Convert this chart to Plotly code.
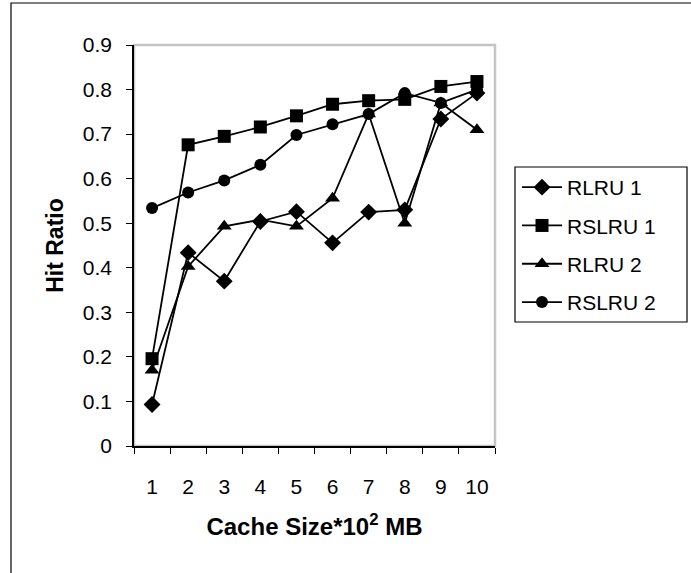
import plotly.graph_objects as go

# Cache sizes (x 10^2 MB) and hit ratios per replacement policy
cache_sizes = ["1", "2", "3", "4", "5", "6", "7", "8", "9", "10"]
rlru1 = [0.093, 0.434, 0.370, 0.504, 0.526, 0.456, 0.525, 0.530, 0.734, 0.792]
rslru1 = [0.196, 0.676, 0.695, 0.716, 0.741, 0.767, 0.775, 0.778, 0.807, 0.818]
rlru2 = [0.170, 0.403, 0.493, 0.508, 0.493, 0.556, 0.745, 0.500, 0.770, 0.710]
rslru2 = [0.534, 0.569, 0.596, 0.631, 0.698, 0.722, 0.745, 0.792, 0.770, 0.800]

y_ticks = [0, 0.1, 0.2, 0.3, 0.4, 0.5, 0.6, 0.7, 0.8, 0.9]
y_tick_text = ["0", "0.1", "0.2", "0.3", "0.4", "0.5", "0.6", "0.7", "0.8", "0.9"]

series = [
    ("RLRU 1", rlru1, "diamond", 13),
    ("RSLRU 1", rslru1, "square", 13),
    ("RLRU 2", rlru2, "triangle-up", 13),
    ("RSLRU 2", rslru2, "circle", 12),
]

FONT = "Liberation Sans, Arial, sans-serif"
W, H = 691, 573
L, R, T, B = 134, 196, 45, 127
pw, ph = W - L - R, H - T - B

def px_x(x):
    return (x - L) / pw

def px_y(y):
    return (H - B - y) / ph

fig = go.Figure()
for i, (name, vals, sym, size) in enumerate(series):
    fig.add_trace(go.Scatter(
        x=cache_sizes, y=vals, name=name, mode="lines+markers",
        legendgroup=f"g{i}",
        line=dict(color="black", width=1.8),
        marker=dict(symbol=sym, size=size, color="black", line=dict(width=0)),
    ))

shapes = [
    # plot area frame
    dict(type="rect", xref="paper", yref="paper", x0=0, x1=1, y0=0, y1=1,
         line=dict(color="#c4c4c4", width=2.5), layer="below"),
    # legend box
    dict(type="rect", xref="paper", yref="paper",
         x0=px_x(515), x1=px_x(687), y0=px_y(322), y1=px_y(167),
         line=dict(color="black", width=1.2)),
    # outer figure frame
    dict(type="rect", xref="paper", yref="paper",
         x0=px_x(11), x1=px_x(720), y0=px_y(600), y1=px_y(3),
         line=dict(color="black", width=1.2)),
]

fig.update_layout(
    width=W, height=H,
    margin=dict(l=L, r=R, t=T, b=B),
    paper_bgcolor="white", plot_bgcolor="white",
    font=dict(family=FONT, size=21, color="black"),
    shapes=shapes,
    legend=dict(
        x=px_x(517), y=px_y(167), xanchor="left", yanchor="top",
        bgcolor="rgba(0,0,0,0)", borderwidth=0,
        font=dict(family=FONT, size=21, color="black"),
        tracegroupgap=8, itemwidth=40,
    ),
    xaxis=dict(
        type="category", range=[-0.5, 9.5],
        tickson="boundaries", ticks="outside", ticklen=6, tickwidth=1.3,
        tickcolor="black", showline=True, linecolor="black", linewidth=1.5,
        showgrid=False, zeroline=False, ticklabelstandoff=21,
        tickfont=dict(family=FONT, size=21),
        title=dict(text="<b>Cache Size*10<sup>2</sup> MB</b>",
                   font=dict(family=FONT, size=24), standoff=21),
    ),
    yaxis=dict(
        range=[0, 0.9], tickvals=y_ticks, ticktext=y_tick_text,
        ticks="outside", ticklen=6, tickwidth=1.3, tickcolor="black",
        showline=True, linecolor="black", linewidth=1.5,
        showgrid=False, zeroline=False, ticklabelstandoff=10,
        tickfont=dict(family=FONT, size=21),
        title=dict(text="<b>Hit Ratio</b>",
                   font=dict(family=FONT, size=23), standoff=13),
    ),
)

fig.write_html("out.html")
